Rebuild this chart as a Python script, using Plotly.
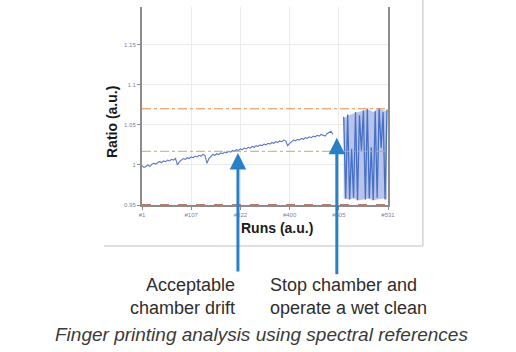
import plotly.graph_objects as go

# ---- data ----
drift_runs = list(range(0, 392, 4))
drift_ratio = [0.999, 0.997, 0.998, 1.000, 0.998, 1.001, 1.002, 1.001, 1.003, 1.004,
               1.003, 1.005, 1.004, 1.006, 1.005, 1.007, 1.006, 1.008, 1.000, 1.004,
               1.006, 1.008, 1.007, 1.009, 1.008, 1.010, 1.009, 1.011, 1.010, 1.012,
               1.011, 1.013, 1.012, 1.002, 1.008, 1.011, 1.013, 1.012, 1.014, 1.013,
               1.015, 1.014, 1.016, 1.015, 1.017, 1.016, 1.018, 1.017, 1.019, 1.018,
               1.020, 1.019, 1.021, 1.020, 1.022, 1.021, 1.023, 1.022, 1.024, 1.023,
               1.025, 1.024, 1.026, 1.025, 1.027, 1.026, 1.028, 1.027, 1.029, 1.028,
               1.030, 1.029, 1.031, 1.030, 1.024, 1.027, 1.029, 1.031, 1.030, 1.032,
               1.031, 1.033, 1.032, 1.034, 1.033, 1.035, 1.034, 1.036, 1.035, 1.037,
               1.036, 1.038, 1.037, 1.036, 1.039, 1.041, 1.042, 1.038]

osc_runs = list(range(410, 502, 4))
osc_ratio = [1.060, 0.958, 1.063, 0.957, 1.020, 0.959, 1.066, 0.956, 1.062, 1.018,
             1.068, 0.957, 1.070, 0.958, 1.022, 0.956, 1.067, 0.959, 1.071, 1.021,
             1.066, 0.957, 1.069]

env_runs = [410, 420, 430, 440, 450, 460, 470, 480, 490, 498]
env_hi = [1.058, 1.062, 1.064, 1.066, 1.068, 1.069, 1.066, 1.070, 1.068, 1.067]
env_lo = [0.958, 0.957, 0.958, 0.956, 0.957, 0.958, 0.956, 0.957, 0.958, 0.957]

upper_limit = 1.07
drift_limit = 1.017
lower_limit = 0.95

x_tickvals = [0, 100, 200, 300, 400, 500]
x_ticktext = ["#1", "#107", "#322", "#400", "#505", "#531"]
y_tickvals = [0.95, 1.0, 1.05, 1.1, 1.15]
y_ticktext = ["0.95", "1", "1.05", "1.1", "1.15"]

# ---- figure ----
fig = go.Figure()

fig.add_trace(go.Scatter(x=env_runs, y=env_lo, mode="lines",
                         line=dict(width=0), hoverinfo="skip", showlegend=False))
fig.add_trace(go.Scatter(x=env_runs, y=env_hi, mode="lines", fill="tonexty",
                         fillcolor="rgba(172,186,232,0.85)",
                         line=dict(width=0), hoverinfo="skip", showlegend=False))
fig.add_trace(go.Scatter(x=drift_runs, y=drift_ratio, mode="lines",
                         line=dict(color="#5b78c2", width=1.1), showlegend=False))
fig.add_trace(go.Scatter(x=osc_runs, y=osc_ratio, mode="lines",
                         line=dict(color="#4670c4", width=1.3), showlegend=False))

fig.add_hline(y=upper_limit, line=dict(color="#e08a4c", width=1, dash="dashdot"))
fig.add_hline(y=drift_limit, line=dict(color="#b4b070", width=1, dash="dashdot"))
fig.add_hline(y=lower_limit, line=dict(color="#a8503a", width=1.5, dash="dash"))

# outer frame
fig.add_shape(type="line", xref="paper", yref="paper", x0=1.142, x1=1.142, y0=-0.207, y1=1.05,
              line=dict(color="#d4d4d4", width=1.5))
fig.add_shape(type="line", xref="paper", yref="paper", x0=-0.154, x1=1.142, y0=-0.207, y1=-0.207,
              line=dict(color="#d4d4d4", width=1.5))

arrow_col = "#2a80c6"
fig.add_annotation(x=195, y=1.015, ax=0, ay=120, showarrow=True, text="",
                   arrowhead=2, arrowsize=1.1, arrowwidth=3, arrowcolor=arrow_col)
fig.add_annotation(x=396, y=1.034, ax=0, ay=138, showarrow=True, text="",
                   arrowhead=2, arrowsize=1.1, arrowwidth=3, arrowcolor=arrow_col)

txt_font = dict(family="Liberation Sans, Arial", size=18, color="#2e2e2e")
fig.add_annotation(xref="paper", yref="paper", x=(237 - 142) / 246, y=(205 - 296) / 198,
                   xanchor="right", yanchor="middle", align="right", showarrow=False,
                   text="Acceptable<br>chamber drift", font=txt_font)
fig.add_annotation(xref="paper", yref="paper", x=(268 - 142) / 246, y=(205 - 296) / 198,
                   xanchor="left", yanchor="middle", align="left", showarrow=False,
                   text="Stop chamber and<br>operate a wet clean", font=txt_font)
fig.add_annotation(xref="paper", yref="paper", x=(261 - 142) / 246, y=(205 - 334) / 198,
                   xanchor="center", yanchor="middle", showarrow=False,
                   text="<i>Finger printing analysis using spectral references</i>",
                   font=dict(family="Liberation Sans, Arial", size=19, color="#3a3a3a"))

title_font = dict(family="Liberation Sans, Arial", size=14, color="#1a1a1a")
fig.add_annotation(xref="paper", yref="paper", x=(112 - 142) / 246, y=(205 - 122) / 198,
                   xanchor="center", yanchor="middle", textangle=-90, showarrow=False,
                   text="<b>Ratio (a.u.)</b>", font=title_font)
fig.add_annotation(xref="paper", yref="paper", x=(277 - 142) / 246, y=(205 - 228) / 198,
                   xanchor="center", yanchor="middle", showarrow=False,
                   text="<b>Runs (a.u.)</b>", font=title_font)

tick_font = dict(family="Liberation Sans, Arial", size=6, color="#7d84a6")
fig.update_xaxes(range=[0, 500], tickvals=x_tickvals, ticktext=x_ticktext,
                 showgrid=True, gridcolor="#ececec", gridwidth=1,
                 showline=True, linecolor="#8c8c8c", linewidth=1.5,
                 ticks="outside", ticklen=3, tickcolor="#8c8c8c",
                 tickfont=tick_font, zeroline=False)
fig.update_yaxes(range=[0.95, 1.197], tickvals=y_tickvals, ticktext=y_ticktext,
                 showgrid=True, gridcolor="#ececec", gridwidth=1,
                 showline=True, linecolor="#8c8c8c", linewidth=2, mirror=True,
                 ticks="outside", ticklen=3, tickcolor="#8c8c8c",
                 tickfont=tick_font, zeroline=False)

fig.update_layout(width=516, height=352, margin=dict(l=142, r=128, t=7, b=147),
                  paper_bgcolor="white", plot_bgcolor="white", showlegend=False)

fig.write_html("out.html")
